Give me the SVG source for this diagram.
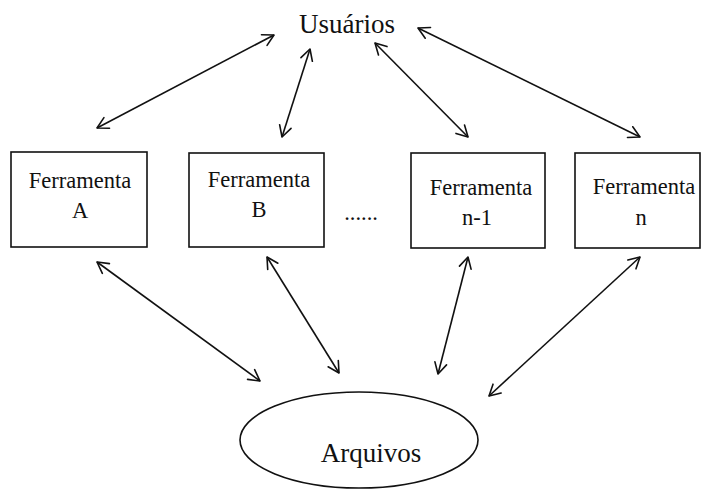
<svg xmlns="http://www.w3.org/2000/svg" width="702" height="491" viewBox="0 0 702 491">
  <style>
    .box { fill: #ffffff; stroke: #111111; stroke-width: 1.6; }
    .txt { font-family: "Liberation Serif", "Times New Roman", serif; fill: #111111; text-anchor: middle; }
    .tool { font-size: 22.5px; }
    .big { font-size: 27px; }
    .link { stroke: #111111; stroke-width: 1.6; fill: none; marker-start: url(#head); marker-end: url(#head); }
  </style>
  <defs>
    <marker id="head" markerUnits="userSpaceOnUse" markerWidth="16" markerHeight="16" viewBox="-13 -8 16 16" refX="0" refY="0" orient="auto-start-reverse">
      <path d="M-11,-6 L0,0 L-11,6" fill="none" stroke="#111111" stroke-width="1.6" stroke-linecap="round" stroke-linejoin="round"/>
    </marker>
  </defs>
  <rect width="702" height="491" fill="#ffffff"/>

  <g id="usuarios">
    <text class="txt big" x="347" y="33">Usuários</text>
  </g>

  <g id="ferramenta-a">
    <rect class="box" x="11" y="152" width="136" height="95"/>
    <text class="txt tool" x="80" y="188">Ferramenta</text>
    <text class="txt tool" x="80" y="218">A</text>
  </g>

  <g id="ferramenta-b">
    <rect class="box" x="189" y="153" width="135" height="94"/>
    <text class="txt tool" x="259" y="187">Ferramenta</text>
    <text class="txt tool" x="259" y="217">B</text>
  </g>

  <g id="reticencias">
    <text class="txt tool" x="361" y="220">......</text>
  </g>

  <g id="ferramenta-n-1">
    <rect class="box" x="411" y="153" width="134" height="95"/>
    <text class="txt tool" x="481" y="195">Ferramenta</text>
    <text class="txt tool" x="477" y="225">n-1</text>
  </g>

  <g id="ferramenta-n">
    <rect class="box" x="575" y="153" width="125" height="95"/>
    <text class="txt tool" x="644" y="194">Ferramenta</text>
    <text class="txt tool" x="641" y="225">n</text>
  </g>

  <g id="arquivos">
    <ellipse class="box" cx="359" cy="440" rx="119" ry="48"/>
    <text class="txt big" x="371" y="462">Arquivos</text>
  </g>

  <g id="connectors">
    <line class="link" x1="97" y1="128" x2="274" y2="35"/>
    <line class="link" x1="282" y1="137" x2="310" y2="49"/>
    <line class="link" x1="468" y1="137" x2="375" y2="43"/>
    <line class="link" x1="640" y1="137" x2="418" y2="28"/>
    <line class="link" x1="97" y1="262" x2="260" y2="381"/>
    <line class="link" x1="267" y1="257" x2="339" y2="373"/>
    <line class="link" x1="468" y1="257" x2="438" y2="374"/>
    <line class="link" x1="640" y1="257" x2="489" y2="396"/>
  </g>
</svg>
